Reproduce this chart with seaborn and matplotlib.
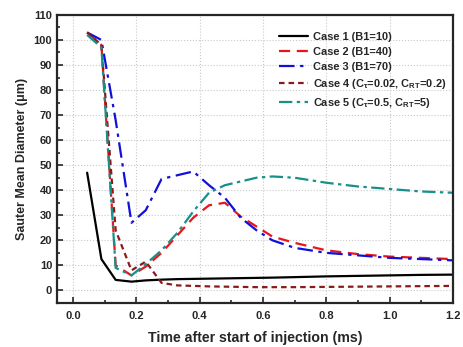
import numpy as np
import pandas as pd
import matplotlib
matplotlib.use("Agg")
import matplotlib.pyplot as plt
import seaborn as sns
from matplotlib.ticker import MultipleLocator

# time after start of injection (ms)
time_ms = [0.045, 0.09, 0.135, 0.185, 0.23, 0.28, 0.33, 0.38, 0.43, 0.48,
           0.53, 0.58, 0.63, 0.70, 0.80, 0.90, 1.00, 1.10, 1.20]

# Sauter mean diameter (um), one list per case
case1 = [47, 12.5, 4.2, 3.5, 4.0, 4.3, 4.5, 4.6, 4.7, 4.8,
         4.9, 5.0, 5.1, 5.3, 5.6, 5.8, 6.0, 6.2, 6.3]
case2 = [103, 98, 10, 6, 9.5, 15, 22, 29, 34, 35,
         29.5, 25.5, 21.5, 19, 16, 14.5, 13.5, 13, 12.5]
case3 = [103, 100, 68, 27, 32, 44.5, 46, 47.5, 42, 37,
         29, 24, 20, 17, 15, 14, 13, 12.5, 12]
case4 = [103, 98, 24, 8, 11.5, 3, 2, 1.8, 1.6, 1.5,
         1.4, 1.3, 1.3, 1.3, 1.4, 1.5, 1.6, 1.7, 1.8]
case5 = [102, 97, 9, 6, 10.5, 16, 23, 31.5, 39, 42,
         43.5, 45, 45.5, 45, 43, 41.5, 40.5, 39.5, 39]

labels = ["Case 1 (B1=10)",
          "Case 2 (B1=40)",
          "Case 3 (B1=70)",
          r"Case 4 (C$_\tau$=0.02, C$_{RT}$=0.2)",
          r"Case 5 (C$_\tau$=0.5, C$_{RT}$=5)"]

sns.set_style("ticks")
plt.rcParams['font.family'] = ['Liberation Sans', 'DejaVu Sans']
plt.rcParams['font.weight'] = 'bold'
plt.rcParams['mathtext.fontset'] = 'custom'
plt.rcParams['mathtext.rm'] = 'Liberation Sans:bold'
plt.rcParams['mathtext.it'] = 'Liberation Sans:bold'
plt.rcParams['mathtext.default'] = 'rm'

colors = ['black', '#e8161b', '#1010d8', '#8b1a1a', '#17908a']
styles = ['-', (0, (5, 3)), (0, (7, 2.5, 1.5, 2.5)), (0, (2.5, 1.8)), (0, (6, 2, 1.5, 2))]

fig = plt.figure(figsize=(4.64, 3.47), dpi=100)
ax = fig.add_axes([0.123, 0.127, 0.853, 0.83])

for y, lab, c, ls in zip([case1, case2, case3, case4, case5], labels, colors, styles):
    df = pd.DataFrame({'time': time_ms, 'smd': y})
    sns.lineplot(data=df, x='time', y='smd', ax=ax, color=c, linestyle=ls,
                 linewidth=1.6, label=lab)

ax.set_xlim(-0.05, 1.2)
ax.set_ylim(-5, 110)
ax.xaxis.set_major_locator(MultipleLocator(0.2))
ax.xaxis.set_minor_locator(MultipleLocator(0.1))
ax.yaxis.set_major_locator(MultipleLocator(10))
ax.yaxis.set_minor_locator(MultipleLocator(5))
ax.xaxis.set_major_formatter(plt.FormatStrFormatter('%.1f'))
ax.tick_params(which='both', direction='in', width=1.2, labelsize=8)
ax.tick_params(which='major', length=4)
ax.tick_params(which='minor', length=2)
ax.tick_params(axis='x', which='major', pad=6)
ax.grid(True, which='major', linestyle=':', color='#c8c8c8', linewidth=0.8)
for s in ax.spines.values():
    s.set_linewidth(1.6)

ax.set_xlabel('Time after start of injection (ms)', fontsize=10.2, fontweight='bold', labelpad=7)
ax.set_ylabel('Sauter Mean Diameter (\u03bcm)', fontsize=9, fontweight='bold')

ax.legend(loc='upper left', bbox_to_anchor=(0.535, 0.975), frameon=False,
          fontsize=7.9, handlelength=2.7, handletextpad=0.45, labelspacing=0.45)

fig.savefig('out.png', dpi=100)
